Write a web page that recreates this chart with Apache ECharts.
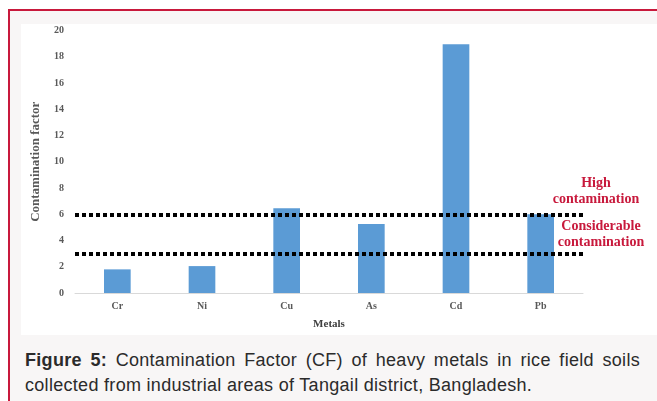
<!DOCTYPE html>
<html>
<head>
<meta charset="utf-8">
<script src="https://cdn.jsdelivr.net/npm/echarts@6/dist/echarts.min.js"></script>
<style>
  body { margin: 0; width: 657px; height: 401px; background: #fff; overflow: hidden; position: relative; }
  #frame { position: absolute; left: 8px; top: 9px; width: 660px; height: 400px;
    border-top: 2px solid #c8193c; border-left: 2px solid #c8193c; background: #f8f6f6; }
  #chart { position: absolute; left: 21px; top: 24px; width: 636px; height: 311px; background: #fff; }
  .cap { position: absolute; left: 25px; width: 615px; font-family: "Liberation Sans", Arial, sans-serif;
    font-size: 18px; letter-spacing: 0.3px; line-height: 25px; color: #2b2b2b; white-space: nowrap; }
  #cap1 { top: 348px; text-align: justify; text-align-last: justify; white-space: normal; }
  #cap2 { top: 373px; }
</style>
</head>
<body>
<div id="frame"></div>
<div id="chart"></div>
<div class="cap" id="cap1"><b>Figure 5:</b> Contamination Factor (CF) of heavy metals in rice field soils</div>
<div class="cap" id="cap2">collected from industrial areas of Tangail district, Bangladesh.</div>
<script>
const metals = ['Cr', 'Ni', 'Cu', 'As', 'Cd', 'Pb'];
const cfValues = [1.8, 2.05, 6.45, 5.25, 18.95, 6.0];
const thresholds = [6, 3];
const yTicks = { min: 0, max: 20, interval: 2 };

const chart = echarts.init(document.getElementById('chart'), null, { renderer: 'canvas' });
const serif = '"Liberation Serif", "Times New Roman", serif';
const red = '#c8193c';

function note(text, x, y) {
  return {
    type: 'text', x: x, y: y,
    style: { text: text, fill: red, font: 'bold 14px ' + serif, textAlign: 'center', textVerticalAlign: 'middle' }
  };
}

const opt = {
  animation: false,
  grid: { left: 49, right: 74, top: 6.5, bottom: 41 },
  xAxis: {
    type: 'category',
    data: metals,
    name: 'Metals',
    nameLocation: 'middle',
    nameGap: 26,
    nameTextStyle: { fontFamily: serif, fontWeight: 'bold', fontSize: 11, color: '#404040' },
    axisLine: { lineStyle: { color: '#d9d9d9', width: 1 } },
    axisTick: { show: false },
    axisLabel: { fontFamily: serif, fontWeight: 'bold', fontSize: 10, color: '#595959', margin: 8 }
  },
  yAxis: {
    type: 'value',
    min: yTicks.min,
    max: yTicks.max,
    interval: yTicks.interval,
    name: 'Contamination factor',
    nameLocation: 'middle',
    nameGap: 33,
    nameRotate: 90,
    nameTextStyle: { fontFamily: serif, fontWeight: 'bold', fontSize: 13, color: '#595959' },
    axisLine: { show: false },
    axisTick: { show: false },
    splitLine: { show: false },
    axisLabel: { fontFamily: serif, fontWeight: 'bold', fontSize: 10, color: '#595959', margin: 11 }
  },
  series: [{
    type: 'bar',
    data: cfValues,
    barWidth: '31.5%',
    itemStyle: { color: '#5b9bd5' },
    markLine: {
      silent: true,
      symbol: 'none',
      label: { show: false },
      lineStyle: { color: '#000', width: 4, type: [4, 3] },
      data: thresholds.map((t) => ({ yAxis: t }))
    }
  }],
  graphic: [
    note('High', 575, 159),
    note('contamination', 575, 175),
    note('Considerable', 580, 202),
    note('contamination', 580, 218)
  ]
};

chart.setOption(opt);
</script>
</body>
</html>
